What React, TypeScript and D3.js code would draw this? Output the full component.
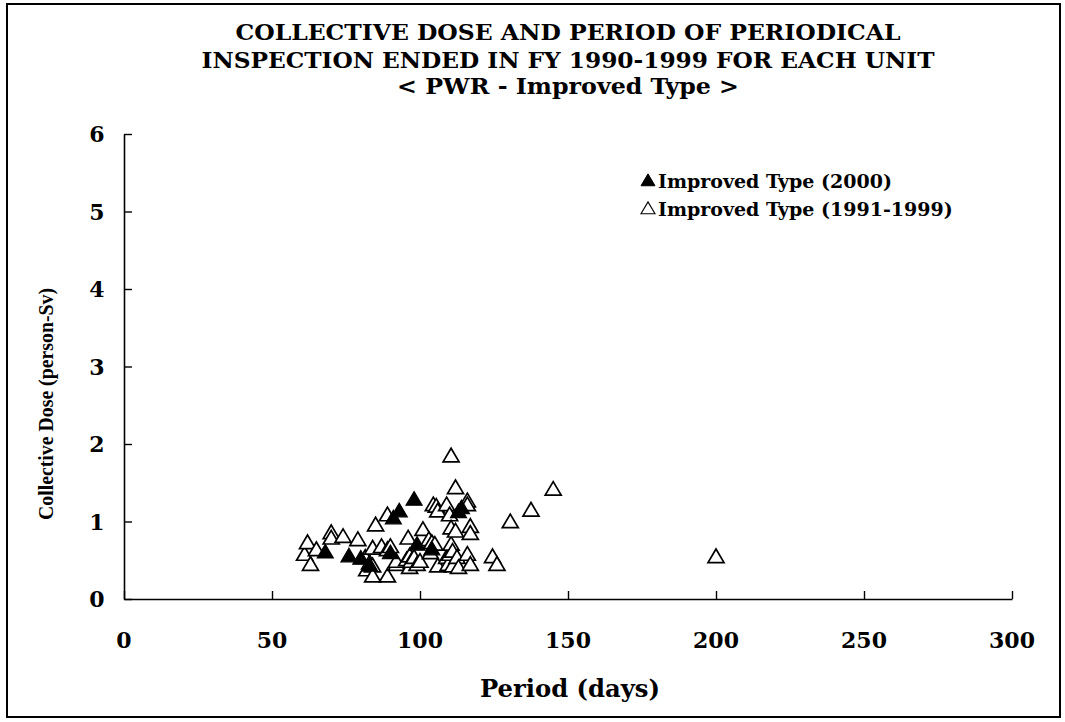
import React, { useEffect, useRef } from "react";
import * as d3 from "d3";

// inspection period (days), collective dose (person-Sv)
const improved2000: [number, number][] = [
  [68, 0.6], [76, 0.55], [80, 0.52], [83, 0.43], [90, 0.59], [91, 1.04],
  [93, 1.13], [98, 1.28], [99, 0.7], [104, 0.64], [113, 1.12], [114, 1.17],
];

const improved9199: [number, number][] = [
  [61, 0.57], [62, 0.72], [63, 0.44], [65, 0.63], [70, 0.85], [70, 0.78],
  [74, 0.8], [79, 0.76], [81.5, 0.53], [82, 0.37], [83, 0.46], [84, 0.42],
  [84, 0.29], [84, 0.65], [85, 0.95], [87, 0.67], [89, 1.08], [89, 0.29],
  [89, 0.63], [90, 0.67], [92, 0.44], [92, 0.48], [95.5, 0.5], [96, 0.78],
  [96.5, 0.55], [96.5, 0.4], [97, 0.48], [98, 0.53], [99, 0.44], [100, 0.48],
  [101, 0.89], [103, 0.76], [103.5, 0.59], [104, 0.72], [105, 0.7], [104.5, 1.21],
  [105.5, 1.19], [106, 1.13], [106, 0.42], [109, 1.21], [109, 0.53], [109.5, 0.44],
  [110, 1.08], [110, 0.57], [110.5, 1.84], [110.5, 0.91], [110.5, 0.7], [111, 0.61],
  [111, 0.42], [112, 1.43], [112, 0.87], [112.5, 0.53], [113, 0.4], [116, 1.26],
  [116, 0.57], [116, 1.21], [117, 0.93], [117, 0.84], [117, 0.44], [124.5, 0.54],
  [126, 0.44], [130.5, 0.99], [137.5, 1.14], [145, 1.41], [200, 0.54],
];

const xTicks = [0, 50, 100, 150, 200, 250, 300];
const yTicks = [0, 1, 2, 3, 4, 5, 6];
const titleLines = [
  "COLLECTIVE DOSE AND PERIOD OF PERIODICAL",
  "INSPECTION ENDED IN FY 1990-1999 FOR EACH UNIT",
  "< PWR - Improved Type >",
];
const legendLabels = ["Improved Type (2000)", "Improved Type (1991-1999)"];

const condensed = "'DejaVu Serif Condensed', 'DejaVu Serif', serif";
const wide = "'DejaVu Serif', serif";

function tri(size: number) {
  // upward triangle centred on its centroid
  const h = size * 0.85;
  return `M0,${-h * 0.6}L${size / 2},${h * 0.4}L${-size / 2},${h * 0.4}Z`;
}

export default function App() {
  const ref = useRef<SVGSVGElement>(null);

  useEffect(() => {
    const width = 1065;
    const height = 722;
    const margin = { top: 134, right: 53, bottom: 123, left: 124 };
    const innerWidth = width - margin.left - margin.right;
    const innerHeight = height - margin.top - margin.bottom;

    const svg = d3.select(ref.current).attr("width", width).attr("height", height);
    svg.selectAll("*").remove();

    svg.append("rect").attr("x", 7).attr("y", 4).attr("width", 1053).attr("height", 713)
      .attr("fill", "white").attr("stroke", "black").attr("stroke-width", 2);

    const title = svg.append("g");
    const titleWidths = [665, 733, 342];
    const titleY = [40, 68, 94];
    titleLines.forEach((t, i) => {
      title.append("text").attr("x", 568).attr("y", titleY[i]).attr("text-anchor", "middle")
        .attr("textLength", titleWidths[i]).attr("lengthAdjust", "spacingAndGlyphs")
        .style("font-family", condensed).style("font-stretch", "condensed")
        .style("font-weight", "bold").style("font-size", "23px").text(t);
    });

    const chart = svg.append("g").attr("transform", `translate(${margin.left}, ${margin.top})`);

    const xScale = d3.scaleLinear().domain([0, 300]).range([0, innerWidth]);
    const yScale = d3.scaleLinear().domain([0, 6]).range([innerHeight, 0]);

    const xAxis = d3.axisTop(xScale).tickValues(xTicks).tickSize(8).tickSizeOuter(0).tickFormat(() => "");
    const yAxis = d3.axisRight(yScale).tickValues(yTicks).tickSize(8).tickSizeOuter(0).tickFormat(() => "");

    const gx = chart.append("g").attr("transform", `translate(0, ${innerHeight})`).call(xAxis);
    const gy = chart.append("g").call(yAxis);
    [gx, gy].forEach(g => {
      g.select(".domain").attr("stroke", "black").attr("stroke-width", 1.6);
      g.selectAll(".tick line").attr("stroke", "black").attr("stroke-width", 1.4);
    });

    chart.selectAll(".xlab").data(xTicks).join("text").attr("class", "xlab")
      .attr("x", d => xScale(d)).attr("y", innerHeight + 49).attr("text-anchor", "middle")
      .style("font-family", wide).style("font-weight", "bold").style("font-size", "22px").text(d => d);

    chart.selectAll(".ylab").data(yTicks).join("text").attr("class", "ylab")
      .attr("x", -27).attr("y", d => yScale(d) + 8).attr("text-anchor", "middle")
      .style("font-family", wide).style("font-weight", "bold").style("font-size", "22px").text(d => d);

    svg.append("text").attr("x", 570).attr("y", 697).attr("text-anchor", "middle")
      .attr("textLength", 180).attr("lengthAdjust", "spacingAndGlyphs")
      .style("font-family", condensed).style("font-stretch", "condensed")
      .style("font-weight", "bold").style("font-size", "25px").text("Period (days)");

    svg.append("text").attr("transform", "rotate(-90)").attr("x", -404).attr("y", 53)
      .attr("text-anchor", "middle").attr("textLength", 232).attr("lengthAdjust", "spacingAndGlyphs")
      .style("font-family", "'Liberation Serif', serif").style("font-weight", "bold")
      .style("font-size", "21px").text("Collective Dose (person-Sv)");

    chart.selectAll(".open").data(improved9199).join("path").attr("class", "open")
      .attr("d", tri(16)).attr("transform", d => `translate(${xScale(d[0])}, ${yScale(d[1])})`)
      .attr("fill", "white").attr("stroke", "black").attr("stroke-width", 1.7);

    chart.selectAll(".filled").data(improved2000).join("path").attr("class", "filled")
      .attr("d", tri(16)).attr("transform", d => `translate(${xScale(d[0])}, ${yScale(d[1])})`)
      .attr("fill", "black").attr("stroke", "black").attr("stroke-width", 1.2);

    const legend = svg.append("g").attr("transform", "translate(640, 181)");
    legendLabels.forEach((l, i) => {
      legend.append("path").attr("d", tri(14)).attr("transform", `translate(8, ${i * 28})`)
        .attr("fill", i === 0 ? "black" : "white").attr("stroke", "black").attr("stroke-width", i === 0 ? 1 : 1.1);
      legend.append("text").attr("x", 18).attr("y", i * 28 + 7)
        .style("font-family", wide).style("font-weight", "bold").style("font-size", "19px").text(l);
    });
  }, []);

  return (
    <svg ref={ref} style={{ position: "absolute", left: 0, top: 0 }}></svg>
  );
}
